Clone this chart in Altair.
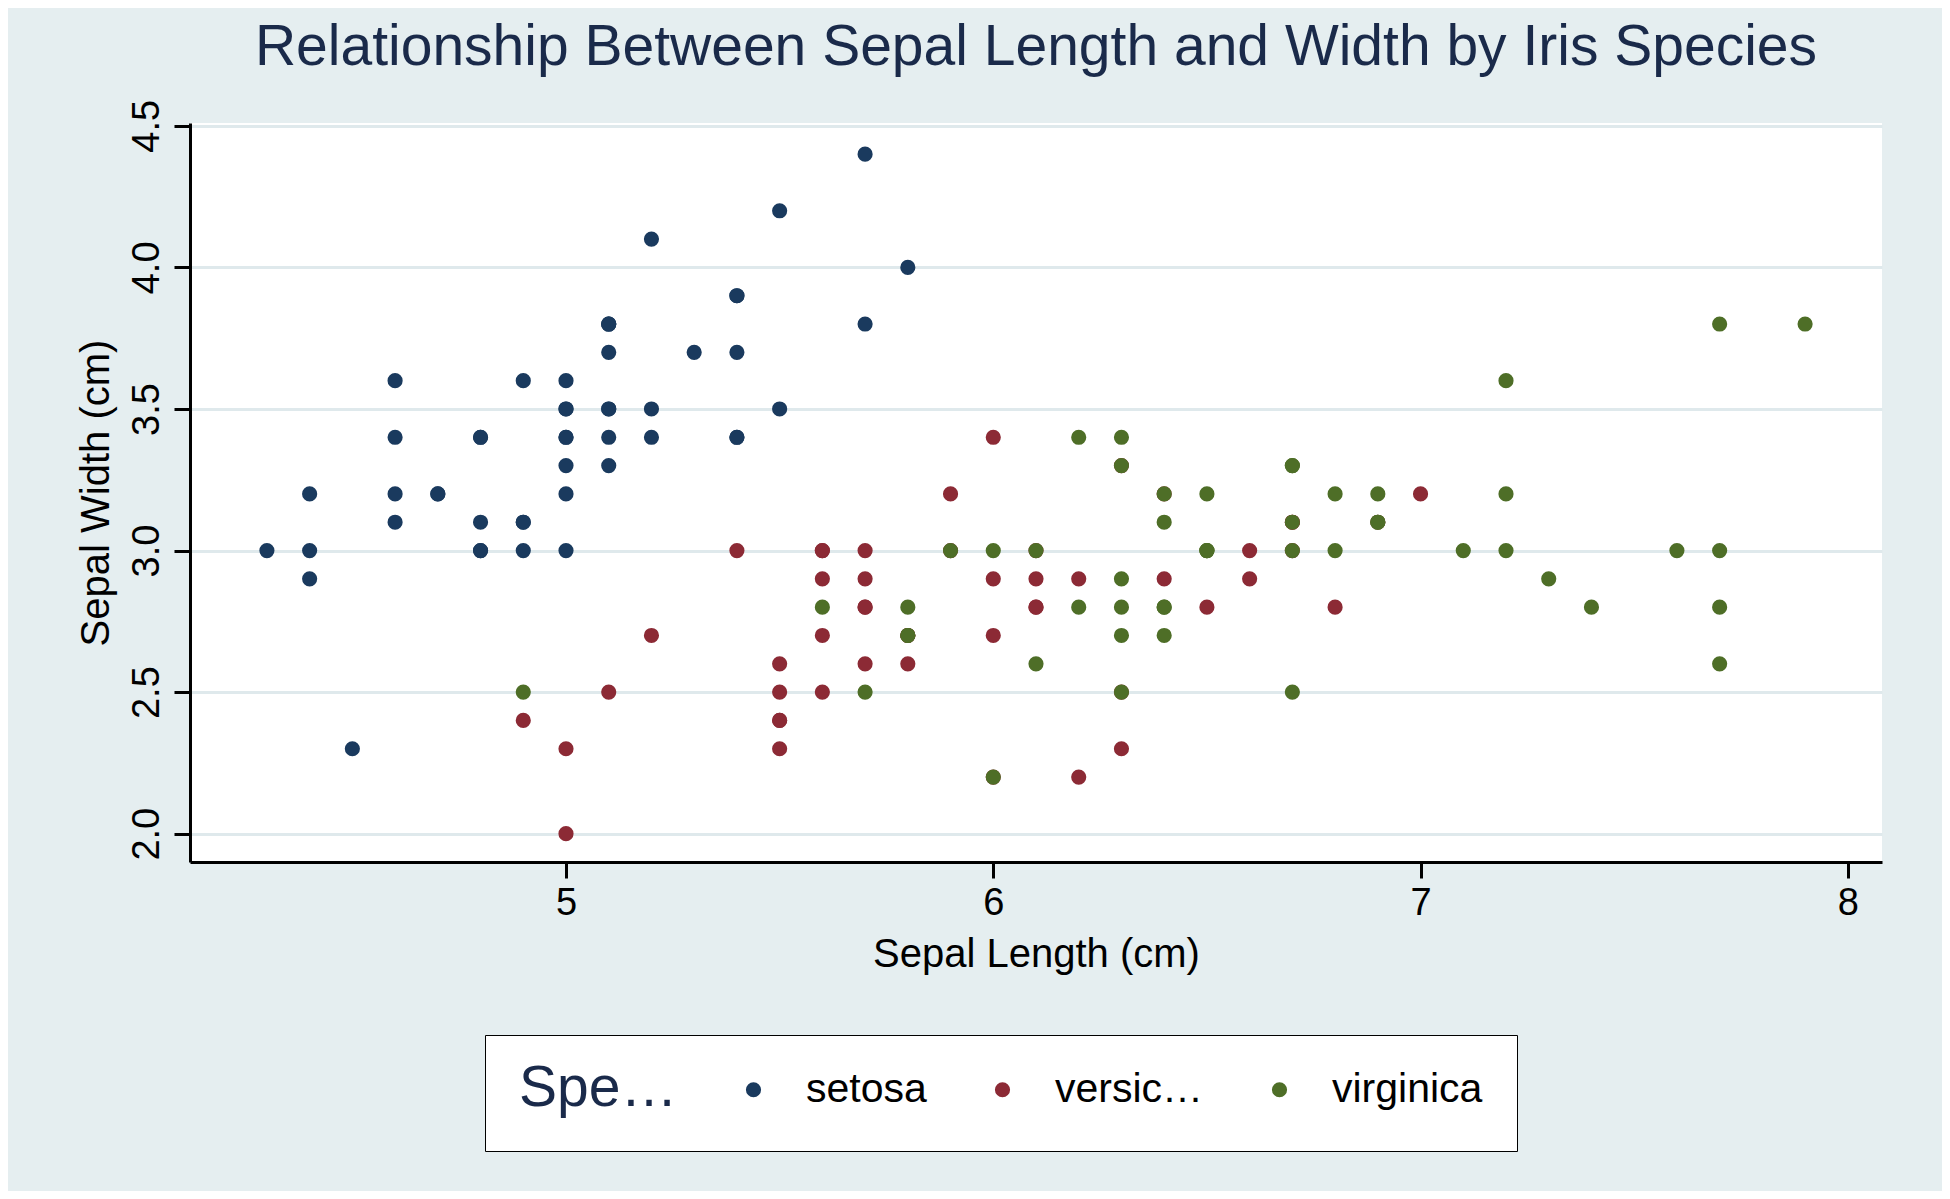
import altair as alt
import pandas as pd

setosa_len = [5.1,4.9,4.7,4.6,5.0,5.4,4.6,5.0,4.4,4.9,5.4,4.8,4.8,4.3,5.8,5.7,5.4,5.1,5.7,5.1,
              5.4,5.1,4.6,5.1,4.8,5.0,5.0,5.2,5.2,4.7,4.8,5.4,5.2,5.5,4.9,5.0,5.5,4.9,4.4,5.1,
              5.0,4.5,4.4,5.0,5.1,4.8,5.1,4.6,5.3,5.0]
setosa_wid = [3.5,3.0,3.2,3.1,3.6,3.9,3.4,3.4,2.9,3.1,3.7,3.4,3.0,3.0,4.0,4.4,3.9,3.5,3.8,3.8,
              3.4,3.7,3.6,3.3,3.4,3.0,3.4,3.5,3.4,3.2,3.1,3.4,4.1,4.2,3.1,3.2,3.5,3.6,3.0,3.4,
              3.5,2.3,3.2,3.5,3.8,3.0,3.8,3.2,3.7,3.3]
versi_len = [7.0,6.4,6.9,5.5,6.5,5.7,6.3,4.9,6.6,5.2,5.0,5.9,6.0,6.1,5.6,6.7,5.6,5.8,6.2,5.6,
             5.9,6.1,6.3,6.1,6.4,6.6,6.8,6.7,6.0,5.7,5.5,5.5,5.8,6.0,5.4,6.0,6.7,6.3,5.6,5.5,
             5.5,6.1,5.8,5.0,5.6,5.7,5.7,6.2,5.1,5.7]
versi_wid = [3.2,3.2,3.1,2.3,2.8,2.8,3.3,2.4,2.9,2.7,2.0,3.0,2.2,2.9,2.9,3.1,3.0,2.7,2.2,2.5,
             3.2,2.8,2.5,2.8,2.9,3.0,2.8,3.0,2.9,2.6,2.4,2.4,2.7,2.7,3.0,3.4,3.1,2.3,3.0,2.5,
             2.6,3.0,2.6,2.3,2.7,3.0,2.9,2.9,2.5,2.8]
virg_len = [6.3,5.8,7.1,6.3,6.5,7.6,4.9,7.3,6.7,7.2,6.5,6.4,6.8,5.7,5.8,6.4,6.5,7.7,7.7,6.0,
            6.9,5.6,7.7,6.3,6.7,7.2,6.2,6.1,6.4,7.2,7.4,7.9,6.4,6.3,6.1,7.7,6.3,6.4,6.0,6.9,
            6.7,6.9,5.8,6.8,6.7,6.7,6.3,6.5,6.2,5.9]
virg_wid = [3.3,2.7,3.0,2.9,3.0,3.0,2.5,2.9,2.5,3.6,3.2,2.7,3.0,2.5,2.8,3.2,3.0,3.8,2.6,2.2,
            3.2,2.8,2.8,2.7,3.3,3.2,2.8,3.0,2.8,3.0,2.8,3.8,2.8,2.8,2.6,3.0,3.4,3.1,3.0,3.1,
            3.1,3.1,2.7,3.2,3.3,3.0,2.5,3.0,3.4,3.0]

species = ["setosa", "versicolor", "virginica"]
colors = ["#1a3a5e", "#8c2a35", "#4e6e27"]

data = pd.concat([
    pd.DataFrame({"len": l, "wid": w, "Species": s})
    for l, w, s in [(setosa_len, setosa_wid, "setosa"),
                    (versi_len, versi_wid, "versicolor"),
                    (virg_len, virg_wid, "virginica")]
])

bg = "#e5eef0"
font = "Liberation Sans"

chart = (
    alt.Chart(data)
    .mark_circle(size=230, opacity=1)
    .encode(
        x=alt.X("len:Q", title="Sepal Length (cm)",
                scale=alt.Scale(domain=[4.12, 8.08], nice=False, zero=False),
                axis=alt.Axis(values=[5, 6, 7, 8], grid=False, labelFontSize=38,
                              titleFontSize=40, titlePadding=12, labelPadding=6)),
        y=alt.Y("wid:Q", title="Sepal Width (cm)",
                scale=alt.Scale(domain=[1.9, 4.51], nice=False, zero=False),
                axis=alt.Axis(values=[2.0, 2.5, 3.0, 3.5, 4.0, 4.5], format=".1f",
                              labelAngle=270, labelAlign="center", labelBaseline="bottom",
                              labelFontSize=38, titleFontSize=40, titlePadding=12,
                              labelPadding=8, gridColor="#dfe9ec", gridWidth=3)),
        color=alt.Color("Species:N", scale=alt.Scale(domain=species, range=colors),
                        legend=alt.Legend(orient="none", legendX=295, legendY=912,
                                          direction="horizontal", titleOrient="left",
                                          titleFontSize=57, titleFontWeight="normal",
                                          titleColor="#1a2a4a", titlePadding=55,
                                          labelFontSize=41, labelColor="black",
                                          symbolSize=230, symbolType="circle",
                                          columnPadding=55, labelOffset=32,
                                          strokeColor="black", fillColor="white",
                                          padding=34, cornerRadius=0)),
    )
    .properties(
        width=1692, height=739,
        title=alt.TitleParams("Relationship Between Sepal Length and Width by Iris Species",
                              fontSize=57, fontWeight="normal", color="#1a2a4a",
                              anchor="middle", offset=22),
        padding={"left": 182, "top": 115, "right": 60, "bottom": 329},
        autosize=alt.AutoSizeParams(type="none"),
        background=bg,
    )
    .configure_view(fill="white", stroke=None)
    .configure_axis(domainColor="black", domainWidth=3, tickColor="black", tickWidth=3,
                    tickSize=16, labelColor="black", titleColor="black",
                    labelFont=font, titleFont=font, titleFontWeight="normal")
    .configure_legend(labelFont=font, titleFont=font)
    .configure_title(font=font)
)

chart.save("out.html", embed_options={"renderer": "svg", "actions": False})
